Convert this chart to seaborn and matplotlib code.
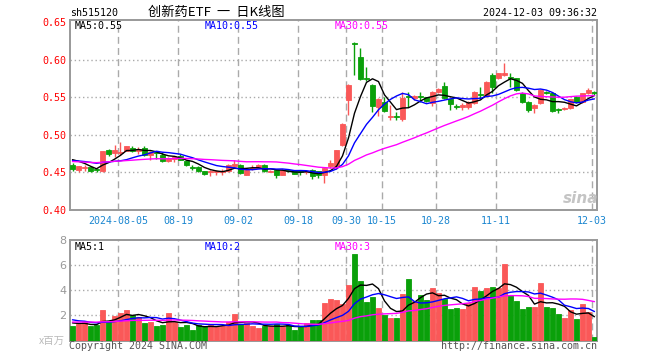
import numpy as np
import pandas as pd
import seaborn as sns
from matplotlib import pyplot as plt

# daily candles, 2024-07-24 .. 2024-12-03
opens = [0.4595, 0.4538, 0.4565, 0.4574, 0.4535, 0.4516, 0.4794, 0.4759, 0.4765, 0.4790,
         0.4825, 0.4790, 0.4825, 0.4728, 0.4765, 0.4737, 0.4657, 0.4680, 0.4714, 0.4657,
         0.4572, 0.4574, 0.4516, 0.4505, 0.4505, 0.4510, 0.4516, 0.4582, 0.4604, 0.4472,
         0.4550, 0.4560, 0.4604, 0.4510, 0.4527, 0.4472, 0.4530, 0.4530, 0.4510, 0.4500,
         0.4538, 0.4516, 0.4472, 0.4592, 0.4580, 0.4869, 0.5464, 0.6220, 0.6037, 0.5755,
         0.5665, 0.5376, 0.5440, 0.5235, 0.5255, 0.5209, 0.5510, 0.5490, 0.5510, 0.5500,
         0.5429, 0.5575, 0.5650, 0.5474, 0.5380, 0.5376, 0.5376, 0.5420, 0.5540, 0.5517,
         0.5795, 0.5751, 0.5790, 0.5773, 0.5751, 0.5562, 0.5442, 0.5354, 0.5421, 0.5570,
         0.5562, 0.5335, 0.5341, 0.5354, 0.5508, 0.5442, 0.5553, 0.5575]
highs = [0.4630, 0.4590, 0.4595, 0.4585, 0.4550, 0.4780, 0.4815, 0.4869, 0.4900, 0.4855,
         0.4855, 0.4835, 0.4855, 0.4780, 0.4780, 0.4770, 0.4700, 0.4715, 0.4750, 0.4660,
         0.4605, 0.4580, 0.4520, 0.4535, 0.4530, 0.4545, 0.4610, 0.4670, 0.4610, 0.4545,
         0.4600, 0.4615, 0.4610, 0.4530, 0.4545, 0.4545, 0.4545, 0.4535, 0.4530, 0.4525,
         0.4545, 0.4525, 0.4570, 0.4660, 0.4800, 0.5160, 0.5670, 0.6235, 0.6160, 0.5905,
         0.5675, 0.5490, 0.5510, 0.5398, 0.5305, 0.5575, 0.5575, 0.5530, 0.5575, 0.5510,
         0.5585, 0.5620, 0.5698, 0.5480, 0.5410, 0.5429, 0.5450, 0.5580, 0.5640, 0.5710,
         0.5817, 0.5825, 0.5958, 0.5817, 0.5760, 0.5570, 0.5450, 0.5410, 0.5610, 0.5580,
         0.5570, 0.5354, 0.5370, 0.5480, 0.5520, 0.5560, 0.5620, 0.5580]
lows = [0.4525, 0.4500, 0.4516, 0.4505, 0.4505, 0.4500, 0.4725, 0.4700, 0.4737, 0.4780,
        0.4775, 0.4745, 0.4725, 0.4665, 0.4680, 0.4640, 0.4645, 0.4645, 0.4665, 0.4580,
        0.4530, 0.4510, 0.4465, 0.4450, 0.4465, 0.4470, 0.4500, 0.4575, 0.4485, 0.4465,
        0.4530, 0.4555, 0.4505, 0.4500, 0.4420, 0.4460, 0.4505, 0.4475, 0.4470, 0.4475,
        0.4406, 0.4420, 0.4362, 0.4560, 0.4550, 0.4850, 0.5266, 0.5800, 0.5730, 0.5720,
        0.5310, 0.5250, 0.5300, 0.5200, 0.5200, 0.5190, 0.5375, 0.5470, 0.5440, 0.5440,
        0.5380, 0.5560, 0.5480, 0.5330, 0.5340, 0.5332, 0.5350, 0.5410, 0.5490, 0.5510,
        0.5553, 0.5740, 0.5780, 0.5640, 0.5580, 0.5430, 0.5310, 0.5288, 0.5410, 0.5540,
        0.5310, 0.5288, 0.5330, 0.5340, 0.5430, 0.5430, 0.5540, 0.5530]
closes = [0.4540, 0.4582, 0.4575, 0.4516, 0.4529, 0.4780, 0.4750, 0.4803, 0.4775, 0.4847,
          0.4790, 0.4812, 0.4737, 0.4772, 0.4755, 0.4648, 0.4693, 0.4701, 0.4670, 0.4604,
          0.4565, 0.4516, 0.4475, 0.4525, 0.4515, 0.4520, 0.4604, 0.4615, 0.4494, 0.4538,
          0.4560, 0.4604, 0.4516, 0.4520, 0.4472, 0.4538, 0.4522, 0.4480, 0.4505, 0.4510,
          0.4450, 0.4470, 0.4560, 0.4627, 0.4794, 0.5147, 0.5663, 0.6205, 0.5738, 0.5738,
          0.5385, 0.5478, 0.5320, 0.5253, 0.5243, 0.5487, 0.5500, 0.5517, 0.5505, 0.5451,
          0.5575, 0.5610, 0.5487, 0.5410, 0.5376, 0.5400, 0.5442, 0.5574, 0.5530, 0.5706,
          0.5640, 0.5817, 0.5817, 0.5751, 0.5597, 0.5442, 0.5332, 0.5398, 0.5597, 0.5560,
          0.5323, 0.5332, 0.5354, 0.5474, 0.5442, 0.5553, 0.5597, 0.5553]
# volume, millions
volumes = [1.15, 1.28, 1.47, 1.15, 1.25, 2.40, 1.47, 1.92, 2.19, 2.40,
           2.00, 1.84, 1.39, 1.47, 1.15, 1.23, 2.19, 1.47, 1.07, 1.23,
           0.80, 1.23, 1.15, 1.20, 1.15, 1.15, 1.47, 2.08, 1.33, 1.39,
           1.12, 0.99, 1.12, 1.12, 1.33, 1.12, 1.20, 0.80, 1.07, 1.39,
           1.60, 1.60, 2.99, 3.28, 3.20, 2.88, 4.40, 6.88, 4.72, 3.04,
           3.44, 2.56, 2.00, 1.76, 1.76, 3.68, 4.88, 3.12, 3.60, 3.20,
           4.16, 3.76, 3.28, 2.48, 2.56, 2.48, 2.96, 4.24, 3.92, 4.16,
           4.24, 4.16, 6.08, 3.60, 3.12, 2.48, 2.64, 2.64, 4.56, 2.64,
           2.56, 2.08, 1.76, 2.40, 1.68, 2.88, 2.24, 0.24]
# estimated sessions before the window, only used to start the moving averages
prev_close = [0.468, 0.470, 0.466, 0.462, 0.460, 0.458, 0.461, 0.465, 0.467, 0.464,
              0.462, 0.459, 0.463, 0.466, 0.468, 0.466, 0.463, 0.461, 0.464, 0.465,
              0.463, 0.465, 0.462, 0.466, 0.466, 0.469, 0.4715, 0.4705, 0.470]
prev_vol = [1.3, 1.5, 1.2, 1.4, 1.6, 1.3, 1.2, 1.5, 1.4, 1.3,
            1.6, 1.4, 1.2, 1.3, 1.5, 1.4, 1.3, 1.4, 1.5, 1.3,
            2.1, 1.8, 2.0, 1.7, 1.9, 1.5, 1.4, 1.6, 1.35]

holidays = ['2024-09-16', '2024-09-17', '2024-10-01', '2024-10-02', '2024-10-03',
            '2024-10-04', '2024-10-07']
tick_dates = ['2024-08-05', '2024-08-19', '2024-09-02', '2024-09-18', '2024-09-30',
              '2024-10-15', '2024-10-28', '2024-11-11', '2024-12-03']
ma_periods = [5, 10, 30]
ma_colors = ['black', '#0000ff', '#ff00ff']

RED = '#fa5858'
GREEN = '#0aa00a'
GRID = '#aaaaaa'
MONO = 'DejaVu Sans Mono'

sns.set_style("white")
plt.rcParams['font.family'] = ['DejaVu Sans', 'Noto Sans CJK SC']

days = [d for d in pd.bdate_range('2024-07-24', '2024-12-03')
        if d.strftime('%Y-%m-%d') not in holidays]
idx = np.arange(len(days))
df = pd.DataFrame({'x': idx, 'open': opens, 'high': highs, 'low': lows,
                   'close': closes, 'vol': volumes})
up = df['close'] >= df['open']
df['color'] = np.where(up, RED, GREEN)

n_prev = len(prev_close)
c_all = pd.Series(prev_close + closes)
v_all = pd.Series(prev_vol + volumes)
for n in ma_periods:
    df[f'ma{n}'] = c_all.rolling(n).mean().iloc[n_prev:].to_numpy()
    df[f'vma{n}'] = v_all.rolling(n).mean().iloc[n_prev:].to_numpy()

day_str = [d.strftime('%Y-%m-%d') for d in days]
tick_pos = [day_str.index(t) - 0.37 for t in tick_dates]
tick_lab = [tick_dates[0]] + [t[5:] for t in tick_dates[1:]]

W, H = 660, 360
fig = plt.figure(figsize=(W / 100, H / 100), dpi=100)


def px_axes(l, t, r, b):
    return fig.add_axes([l / W, 1 - b / H, (r - l) / W, (b - t) / H])


ax1 = px_axes(70, 20, 597, 210)
ax2 = px_axes(70, 240, 597, 340.5)

# candles
ax1.vlines(df['x'], df['low'], df['high'], colors=df['color'], lw=1, zorder=3)
body = np.maximum((df['close'] - df['open']).abs(), 0.0012)
ax1.bar(df['x'], body, bottom=np.minimum(df['open'], df['close']),
        width=0.8, color=df['color'], edgecolor=df['color'], lw=0.6, zorder=3)
# volume bars
ax2.bar(df['x'], df['vol'], width=0.8, color=df['color'], edgecolor=df['color'],
        lw=0.6, zorder=3)

for n, col in zip(ma_periods, ma_colors):
    sns.lineplot(data=df, x='x', y=f'ma{n}', color=col, lw=1, ax=ax1, zorder=4)
    sns.lineplot(data=df, x='x', y=f'vma{n}', color=col, lw=1, ax=ax2, zorder=4)

ax1.set_ylim(0.40, 0.6528)
ax1.set_yticks([0.40, 0.45, 0.50, 0.55, 0.60, 0.65])
ax1.set_yticklabels(['0.40', '0.45', '0.50', '0.55', '0.60', '0.65'],
                    color='red', family=MONO, fontsize=7.2)
ax2.set_ylim(0, 8)
ax2.set_yticks([2, 4, 6, 8])
ax2.set_yticklabels(['2', '4', '6', '8'], color='#999999', fontsize=8)

for ax in (ax1, ax2):
    ax.set_xlim(-0.417, 87.42)
    ax.set_xticks(tick_pos)
    ax.set_xlabel('')
    ax.set_ylabel('')
    ax.tick_params(length=0, pad=2.5)
    for s in ax.spines.values():
        s.set_color('#999999')
        s.set_linewidth(1.4)
    for p in tick_pos:
        ax.axvline(p, color=GRID, lw=1, ls=(0, (5, 3)), zorder=1)
    for yv in ax.get_yticks()[1:-1] if ax is ax1 else ax.get_yticks()[:-1]:
        ax.axhline(yv, color=GRID, lw=1, ls=(0, (1, 2)), zorder=1)

ax1.set_xticklabels(tick_lab, color='#1a86d0', family=MONO, fontsize=7.2)
ax1.tick_params(axis='x', pad=4)
ax2.set_xticklabels([])


def ftext(x, y, s, **kw):
    fig.text(x / W, 1 - y / H, s, va='center', **kw)


# headers
ftext(70, 13, 'sh515120', family=MONO, fontsize=7.2, color='black')
ftext(216, 12, '创新药ETF  一  日K线图', family=['Noto Sans CJK SC', 'DejaVu Sans'],
      fontsize=9.5, color='black', ha='center')
ftext(597, 13, f"{day_str[-1]} 09:36:32", family=MONO, fontsize=7.2,
      color='black', ha='right')

# moving average labels
for (n, col), xp in zip(zip(ma_periods, ma_colors), [75, 205, 335]):
    ftext(xp, 26, f"MA{n}:{df[f'ma{n}'].iloc[-1]:.2f}", family=MONO,
          fontsize=7.2, color=col)
    ftext(xp, 246.5, f"MA{n}:{int(df[f'vma{n}'].iloc[-1])}", family=MONO,
          fontsize=7.2, color=col)

ftext(52, 341, 'x百万', family=['Noto Sans CJK SC', 'DejaVu Sans'], fontsize=7.5,
      color='#bbbbbb', ha='center')
ftext(69, 346, 'Copyright 2024 SINA.COM', family=MONO, fontsize=7.2, color='#555555')
ftext(597, 346, 'http://finance.sina.com.cn', family=MONO, fontsize=7.2,
      color='#555555', ha='right')
ftext(581, 198, 'sina', fontsize=11, fontweight='bold', style='italic',
      color='#c4c4c4', ha='center', zorder=5)

fig.savefig('out.png', dpi=100, facecolor='white')
